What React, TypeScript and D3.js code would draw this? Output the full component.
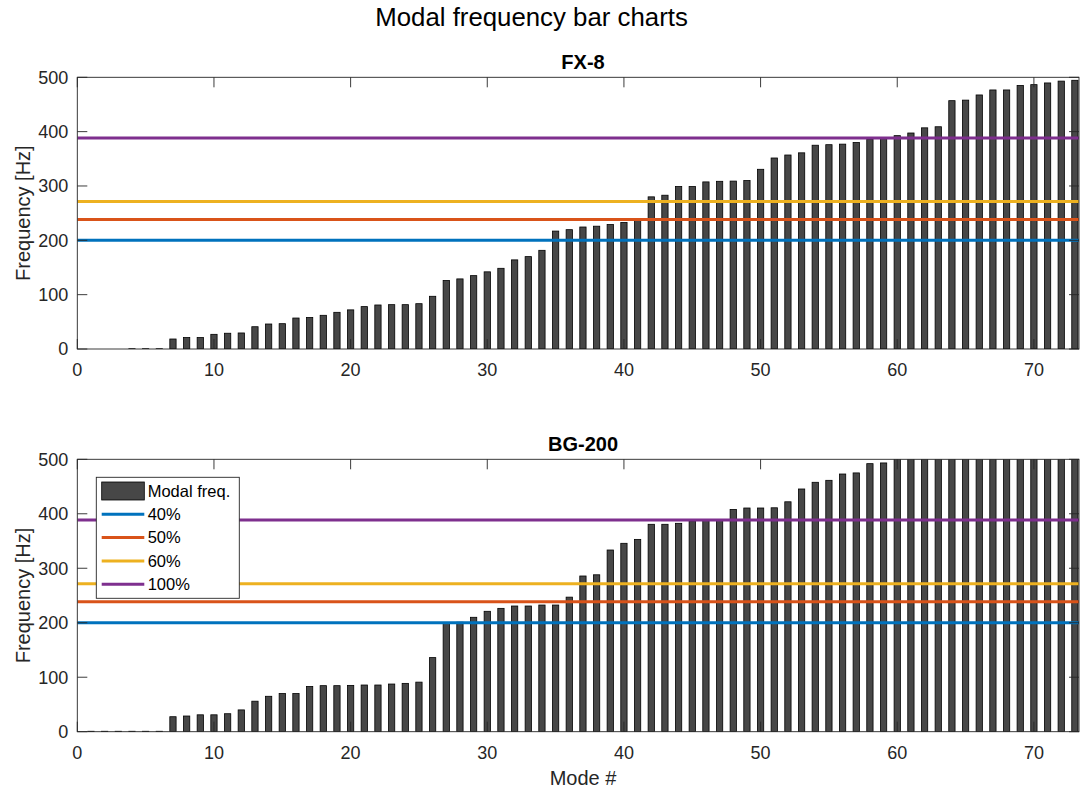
import React from "react";
import * as d3 from "d3";

// mode numbers 1..73
const modes = d3.range(1, 74);

const fx8Freq = [
  0, 0, 0, 0.5, 0.5, 0.5, 18.4, 21, 21, 27,
  29, 29.5, 41, 46, 46.6, 57, 58, 62, 67.5, 72,
  78, 81, 81.6, 81.6, 83.4, 97, 126, 129, 135, 142,
  148.5, 164, 170, 181.6, 217, 219.6, 224.5, 226, 229, 233,
  237, 280, 283, 299, 299, 307.5, 308.6, 309, 310, 330.7,
  351.5, 357, 361, 375, 376, 377, 380, 386, 387, 392.6,
  397.5, 407, 409, 457, 458, 467.5, 476.7, 476.7, 485, 486.5,
  489.6, 493, 494.5,
];

const bg200Freq = [
  0.8, 0.8, 0.8, 0.8, 0.8, 0.8, 27.5, 28.8, 31, 31,
  33, 40, 56, 65, 70, 70, 83, 84.5, 84.5, 85,
  85.7, 85.7, 87.5, 88.7, 91, 136, 200, 201, 210, 221,
  226.4, 230.7, 230.7, 232.5, 232.5, 247, 285.8, 288, 333.5, 345.8,
  353, 380.7, 380.7, 382.5, 387, 388.5, 389, 408, 410.6, 410.6,
  411, 422, 445.5, 457.8, 461.4, 473, 475, 492, 493.3, 503,
  508, 515, 522, 530, 536, 541, 549, 556, 563, 570,
  578, 585, 591,
];

const refLevels = [200, 238.5, 271.5, 388.5];
const refLabels = ["40%", "50%", "60%", "100%"];
const refColors = ["#0072BD", "#D95319", "#EDB120", "#7E2F8E"];

const xTicks = [0, 10, 20, 30, 40, 50, 60, 70];
const yTicks = [0, 100, 200, 300, 400, 500];

const W = 1089;
const H = 789;
const FONT = "'Liberation Sans', Arial, Helvetica, sans-serif";
const TXT = "#262626";
const AX = "#262626";
const left = 77.3;
const right = 1079;
const tickLen = 10;
const barWidth = 0.46;

function Panel({ id, title, values, top, bottom, legend, xLabel }) {
  const x = d3.scaleLinear().domain([0, 73.3]).range([left, right]);
  const y = d3.scaleLinear().domain([0, 500]).range([bottom, top]);
  const bw = x(barWidth) - x(0);
  const midX = 583;
  const midY = (top + bottom) / 2;

  return (
    <g>
      <defs>
        <clipPath id={id}>
          <rect x={left} y={top} width={right - left} height={bottom - top} />
        </clipPath>
      </defs>
      <rect x={left} y={top} width={right - left} height={bottom - top} fill="#fff" />
      <g clipPath={`url(#${id})`}>
        {values.map((v, i) => (
          <rect
            key={i}
            x={x(modes[i]) - bw / 2}
            y={y(v)}
            width={bw}
            height={Math.max(0, y(0) - y(v))}
            fill="#474747"
            stroke="#000"
            strokeWidth={0.8}
          />
        ))}
        {refLevels.map((r, i) => (
          <line
            key={i}
            x1={left}
            x2={right}
            y1={y(r)}
            y2={y(r)}
            stroke={refColors[i]}
            strokeWidth={3}
          />
        ))}
      </g>
      {/* axes box */}
      <rect x={left} y={top} width={right - left} height={bottom - top} fill="none" stroke={AX} strokeWidth={0.9} />
      {xTicks.map(t => (
        <g key={t}>
          <line x1={x(t)} x2={x(t)} y1={bottom} y2={bottom - tickLen} stroke={AX} strokeWidth={0.9} />
          <line x1={x(t)} x2={x(t)} y1={top} y2={top + tickLen} stroke={AX} strokeWidth={0.9} />
          <text x={x(t)} y={bottom + 27} textAnchor="middle" fontSize={18} fill={TXT} fontFamily={FONT}>
            {t}
          </text>
        </g>
      ))}
      {yTicks.map(t => (
        <g key={t}>
          <line x1={left} x2={left + tickLen} y1={y(t)} y2={y(t)} stroke={AX} strokeWidth={0.9} />
          <line x1={right} x2={right - tickLen} y1={y(t)} y2={y(t)} stroke={AX} strokeWidth={0.9} />
          <text x={left - 9} y={y(t)} dy="0.35em" textAnchor="end" fontSize={18} fill={TXT} fontFamily={FONT}>
            {t}
          </text>
        </g>
      ))}
      <text x={midX} y={top - 8} textAnchor="middle" fontSize={20} fontWeight="bold" fill="#000" fontFamily={FONT}>
        {title}
      </text>
      <text
        transform={`translate(30,${midY}) rotate(-90)`}
        textAnchor="middle"
        fontSize={20}
        fill={TXT}
        fontFamily={FONT}
      >
        Frequency [Hz]
      </text>
      {xLabel && (
        <text x={midX} y={bottom + 53} textAnchor="middle" fontSize={20} fill={TXT} fontFamily={FONT}>
          {xLabel}
        </text>
      )}
      {legend && (
        <g transform={`translate(96.3,${top + 18})`} fontFamily={FONT}>
          <rect x={0} y={0} width={143} height={121} fill="#fff" stroke={AX} strokeWidth={0.9} />
          <rect x={5.4} y={4.7} width={42.6} height={18} fill="#474747" stroke="#000" strokeWidth={0.8} />
          <text x={51.4} y={13.7} dy="0.35em" fontSize={16.5} fill="#000">
            Modal freq.
          </text>
          {refLabels.map((l, i) => (
            <g key={l}>
              <line x1={5.4} x2={48} y1={37 + i * 23.3} y2={37 + i * 23.3} stroke={refColors[i]} strokeWidth={3} />
              <text x={51.4} y={37 + i * 23.3} dy="0.35em" fontSize={16.5} fill="#000">
                {l}
              </text>
            </g>
          ))}
        </g>
      )}
    </g>
  );
}

export default function App() {
  return (
    <svg
      width={W}
      height={H}
      style={{ position: "absolute", left: 0, top: 0, background: "#fff" }}
    >
      <rect width={W} height={H} fill="#fff" />
      <text x={531.5} y={26} textAnchor="middle" fontSize={25.8} fill="#000" fontFamily={FONT}>
        Modal frequency bar charts
      </text>
      <Panel id="clipTop" title="FX-8" values={fx8Freq} top={77.3} bottom={349} legend={false} xLabel={null} />
      <Panel id="clipBot" title="BG-200" values={bg200Freq} top={459.3} bottom={731.7} legend={true} xLabel="Mode #" />
    </svg>
  );
}
